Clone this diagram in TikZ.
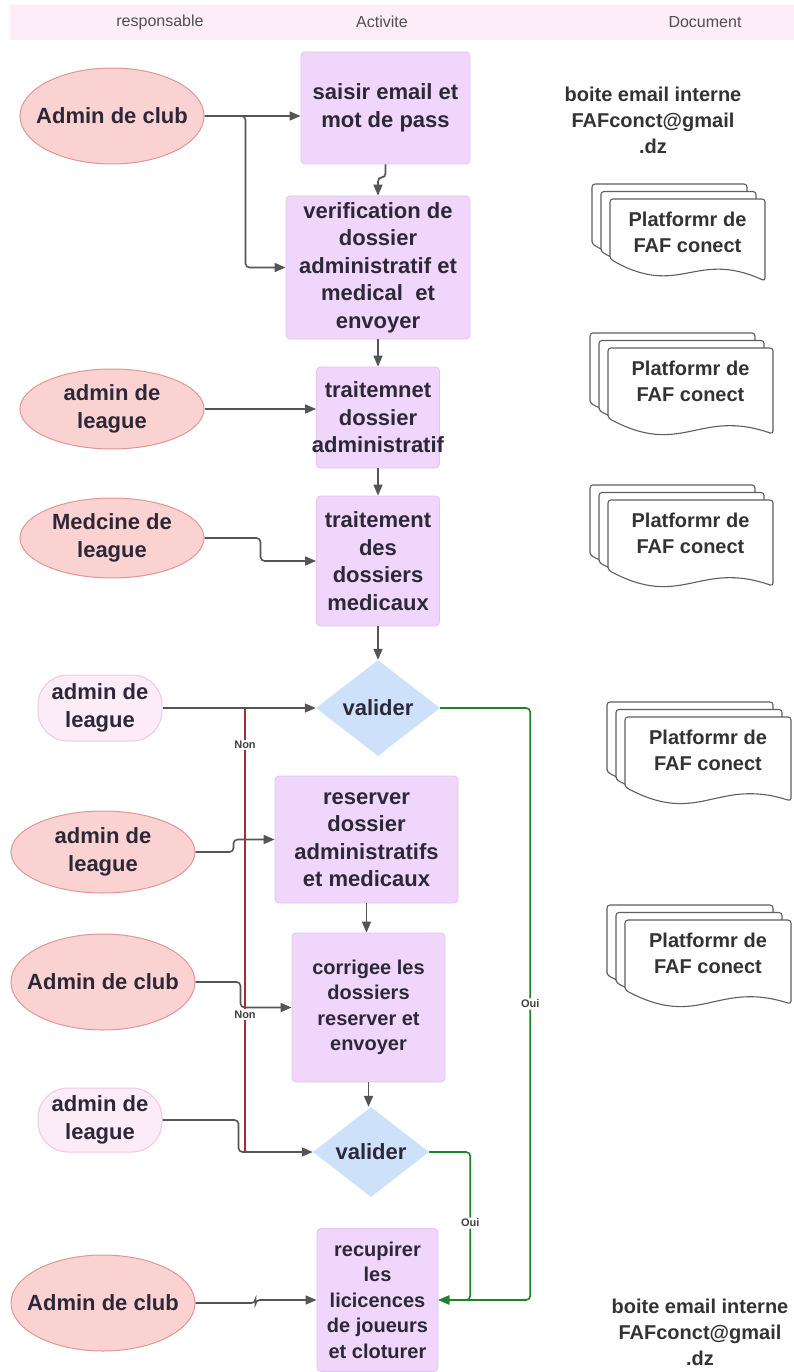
\documentclass[tikz,border=0pt]{standalone}
\usepackage{fontspec}
\setmainfont{Liberation Sans}
\usetikzlibrary{shapes.geometric,arrows.meta}

\definecolor{bandfill}{RGB}{253,237,248}
\definecolor{headgrey}{RGB}{80,80,80}
\definecolor{txt}{RGB}{45,40,55}
\definecolor{actfill}{RGB}{239,214,250}
\definecolor{actline}{RGB}{226,196,242}
\definecolor{ellfill}{RGB}{250,210,210}
\definecolor{ellline}{RGB}{224,150,150}
\definecolor{termfill}{RGB}{252,236,247}
\definecolor{termline}{RGB}{240,200,228}
\definecolor{diafill}{RGB}{205,226,250}
\definecolor{flowgrey}{RGB}{85,85,85}
\definecolor{nonred}{RGB}{165,45,45}
\definecolor{ouigreen}{RGB}{30,130,40}
\definecolor{docline}{RGB}{95,95,95}

\newcommand\actfont{\bfseries\fontsize{22}{27.5}\selectfont}
\newcommand\actsmall{\bfseries\fontsize{20}{25.5}\selectfont}
\newcommand\docfont{\bfseries\fontsize{20}{26}\selectfont}
\newcommand\labfont{\bfseries\fontsize{11}{13}\selectfont}
\newcommand\headfont{\fontsize{16}{18}\selectfont}

\begin{document}
\begin{tikzpicture}[x=1pt,y=-1pt]
  \tikzstyle{actbox}=[rectangle, rounded corners=4pt, draw=actline, fill=actfill, line width=0.8pt, align=center, text=txt, inner sep=2pt, font=\actfont]
  \tikzstyle{respell}=[ellipse, draw=ellline, fill=ellfill, line width=1pt, minimum width=184pt, inner sep=0pt]
  \tikzstyle{respterm}=[rectangle, rounded corners=30pt, draw=termline, fill=termfill, line width=1pt, minimum width=124pt, align=center, text=txt, font=\actfont]
  \tikzstyle{resptxt}=[align=center, text=txt, font=\actfont]
  \tikzstyle{valid}=[diamond, fill=diafill, inner sep=0pt, text=txt, font=\actfont]
  \tikzstyle{flow}=[-{Triangle[length=11pt,width=9pt]}, line width=1.6pt, color=flowgrey, rounded corners=4pt]
  \tikzstyle{nonline}=[line width=1.6pt, color=nonred]
  \tikzstyle{ouiline}=[-{Triangle[length=11pt,width=9pt]}, line width=1.6pt, color=ouigreen, rounded corners=4pt]
  \tikzstyle{lab}=[fill=white, inner sep=1.5pt, text=black!75, font=\labfont]
  \tikzstyle{docsheet}=[draw=docline, fill=white, line width=1.1pt, rounded corners=3pt]
  \tikzstyle{doctxt}=[align=center, text=black!80, font=\docfont]

  \useasboundingbox[fill=white] (0,0) rectangle (794,1372);

  % en-tete
  \fill[bandfill] (10,5) rectangle (794,40);
  \foreach \t/\x in {responsable/160, Activite/382, Document/705} {
    \node[text=headgrey, font=\headfont] (h\t) at (\x,22) {\t};
  }

  % responsables
  \node[respell, minimum height=96pt, label={[resptxt]center:Admin de club}] (resp1) at (112,116) {};
  \node[respell, minimum height=80pt, label={[resptxt]center:admin de\\league}] (resp2) at (112,409) {};
  \node[respell, minimum height=80pt, label={[resptxt]center:Medcine de\\league}] (resp3) at (112,538) {};
  \node[respterm, minimum height=66pt] (resp4) at (100,708) {admin de\\league};
  \node[respell, minimum height=82pt, label={[resptxt]center:admin de\\league}] (resp5) at (103,852) {};
  \node[respell, minimum height=96pt, label={[resptxt]center:Admin de club}] (resp6) at (103,982) {};
  \node[respterm, minimum height=64pt] (resp7) at (100,1120) {admin de\\league};
  \node[respell, minimum height=96pt, label={[resptxt]center:Admin de club}] (resp8) at (103,1303) {};

  % activites
  \node[actbox, minimum width=169pt, minimum height=112pt] (act1) at (385.5,108) {saisir email et\\mot de pass};
  \node[actbox, minimum width=184pt, minimum height=143pt] (act2) at (378,267.5) {verification de\\dossier\\administratif et\\medical~ et\\envoyer};
  \node[actbox, minimum width=123pt, minimum height=101pt] (act3) at (378,417.5) {traitemnet\\dossier\\\makebox[0pt]{administratif}};
  \node[actbox, minimum width=123pt, minimum height=130pt] (act4) at (378,561) {traitement\\des\\dossiers\\medicaux};
  \node[valid, minimum width=124pt, minimum height=96pt] (val1) at (378,708) {valider};
  \node[actbox, minimum width=183pt, minimum height=127pt] (act5) at (366.5,839.5) {reserver\\dossier\\administratifs\\et medicaux};
  \node[actbox, font=\actsmall, minimum width=153pt, minimum height=149pt] (act6) at (368.5,1007.5) {corrigee les\\dossiers\\reserver et\\envoyer};
  \node[valid, minimum width=116pt, minimum height=90pt] (val2) at (371,1152) {valider};
  \node[actbox, font=\actsmall, minimum width=121pt, minimum height=143pt] (act8) at (377.5,1300) {recupirer\\les\\licicences\\de joueurs\\et cloturer};

  % documents
  \node[doctxt] (mail1) at (653,120) {boite email interne\\FAFconct@gmail\\.dz};
  \node[doctxt] (mail2) at (700,1332) {boite email interne\\FAFconct@gmail\\.dz};
  \foreach \n/\x/\y/\w/\l/\r in {1/592/184/155/60/82, 2/590/333/165/70/86, 3/590/485/165/70/86, 4/607/702/166/70/84, 5/607/905/166/70/84} {
    \foreach \k in {0,1,2} {
      \pgfmathsetmacro\X{\x+9*\k}
      \pgfmathsetmacro\Y{\y+7.5*\k}
      \filldraw[docsheet] (\X,{\Y+\l}) -- (\X,\Y) -- ({\X+\w},\Y) -- ({\X+\w},{\Y+\r})
        .. controls ({\X+0.55*\w},{\Y+\l-10}) and ({\X+0.45*\w},{\Y+\l+40}) .. (\X,{\Y+\l}) -- cycle;
    }
    \node[doctxt] (doc\n) at ({\x+18+\w/2},{\y+48}) {Platformr de\\FAF conect};
  }

  % liaisons
  \coordinate (nonx) at (245,0);
  \draw[nonline] (val1.west -| nonx) -- node[lab, pos=0.083] {Non} node[lab, pos=0.69] {Non} (val2.west -| nonx);
  \draw[flow] (resp1.east) -- (resp1.east -| act1.west);
  \draw[flow] (resp1.east) -- ++(41,0) |- (act2.west);
  \draw[flow] (act1.south) -- ++(0,13) -| (act2.north);
  \draw[flow] (act2.south) -- (act3.north);
  \draw[flow] (resp2.east) -- (resp2.east -| act3.west);
  \draw[flow] (act3.south) -- (act4.north);
  \draw[flow] (resp3.east) -- ++(56,0) |- (act4.west);
  \draw[flow] (act4.south) -- (val1.north);
  \draw[flow] (resp4.east) -- (val1.west);
  \draw[flow] (resp5.east) -- ++(38,0) |- (act5.west);
  \draw[flow] (act5.south) -- (act5.south |- act6.north);
  \draw[flow] (resp6.east) -- ++(45,0) |- (act6.west);
  \draw[flow] (act6.south) -- (act6.south |- val2.north);
  \draw[flow] (resp7.east) -- ++(76,0) |- (val2.west);
  \draw[flow] (resp8.east) -- ++(60,0) |- (act8.west);
  \draw[ouiline] (val1.east) -- ++(90,0) |- node[lab, pos=0.25] {Oui} (act8.east);
  \draw[ouiline] (val2.east) -- ++(41,0) |- node[lab, pos=0.24] {Oui} (act8.east);
\end{tikzpicture}
\end{document}
